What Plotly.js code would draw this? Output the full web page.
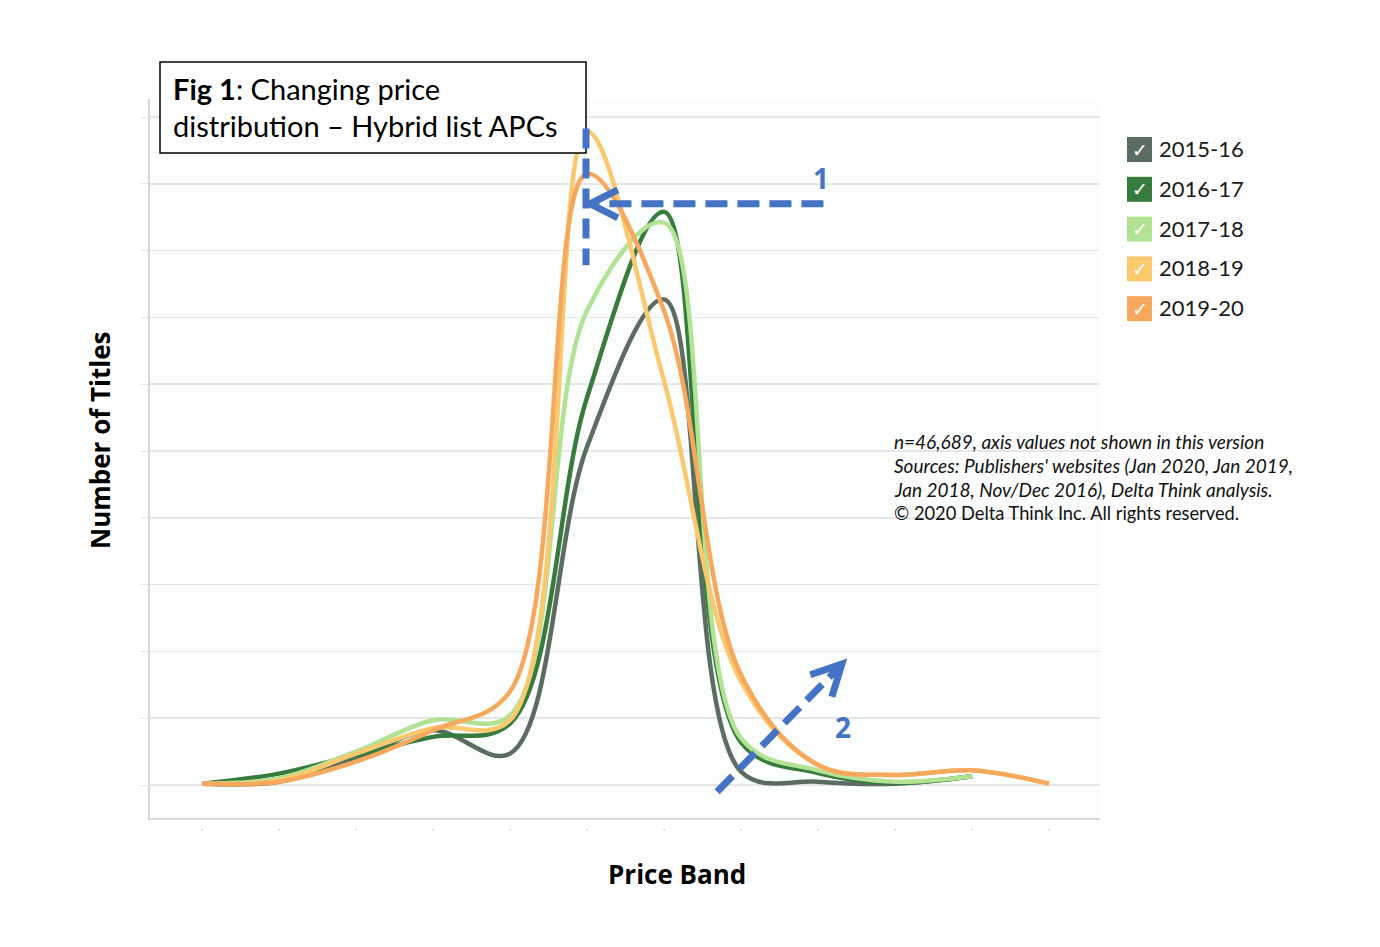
<!DOCTYPE html>
<html>
<head>
<meta charset="utf-8">
<script src="https://cdn.plot.ly/plotly-3.0.1.min.js"></script>
<style>
  body { margin: 0; background: #fff; }
  #myDiv { width: 1380px; height: 947px; }
</style>
</head>
<body>
<div id="myDiv"></div>
<script>
// price bands (values hidden in the source), one label per band
const bands = [0, 1, 2, 3, 4, 5, 6, 7, 8, 9, 10, 11];
const bandLabels = ['·', '·', '·', '·', '·', '·', '·', '·', '·', '·', '·', '·'];

const seasons = ['2015-16', '2016-17', '2017-18', '2018-19', '2019-20'];

// number of titles per band (in gridline units)
const titles1516 = [0.02, 0.05, 0.40, 0.82, 0.47, 5.06, 7.27, 0.20, 0.05, 0.02, 0.13];
const titles1617 = [0.02, 0.17, 0.45, 0.72, 0.92, 5.80, 8.58, 0.64, 0.18, 0.03, 0.13];
const titles1718 = [0.02, 0.10, 0.50, 0.97, 1.04, 7.10, 8.42, 0.70, 0.22, 0.05, 0.13];
const titles1819 = [0.02, 0.07, 0.47, 0.85, 0.97, 9.78, 6.05, 1.55, 0.30, 0.15, 0.22, 0.02];
const titles1920 = [0.02, 0.05, 0.35, 0.82, 1.40, 9.15, 7.10, 1.65, 0.30, 0.15, 0.22, 0.02];

const colors = ['#5b6d60', '#387c3d', '#b2e294', '#fac96d', '#f6a95c'];
const allSeries = [titles1516, titles1617, titles1718, titles1819, titles1920];

var data = allSeries.map(function (vals, k) {
  return {
    x: bands.slice(0, vals.length),
    y: vals,
    name: seasons[k],
    type: 'scatter',
    mode: 'lines',
    line: { color: colors[k], width: 4.5, shape: 'spline', smoothing: 1 },
    hoverinfo: 'skip',
    showlegend: false
  };
});

// pixel -> paper helpers for the decorations around the plot
const L = 150, R = 1100, T = 99, B = 818;
function px(x) { return (x - L) / (R - L); }
function py(y) { return (B - y) / (B - T); }

const blue = '#4472c4';

var shapes = [
  // title box
  { type: 'rect', xref: 'paper', yref: 'paper', x0: px(160), x1: px(586), y0: py(62), y1: py(153),
    line: { color: '#000', width: 1.5 }, fillcolor: '#fff', layer: 'above' },
  // arrow 1
  { type: 'line', xref: 'x', yref: 'y', x0: 4.987, x1: 4.987, y0: 9.83, y1: 7.78,
    line: { color: blue, width: 7, dash: '20px,10px' }, layer: 'above' },
  { type: 'line', xref: 'x', yref: 'y', x0: 8.07, x1: 5.06, y0: 8.70, y1: 8.70,
    line: { color: blue, width: 7, dash: '22px,10px' }, layer: 'above' },
  { type: 'path', xref: 'x', yref: 'y', path: 'M 5.40,8.91 L 5.04,8.70 L 5.40,8.49',
    line: { color: blue, width: 7 }, layer: 'above' },
  // arrow 2
  { type: 'line', xref: 'x', yref: 'y', x0: 6.69, y0: -0.10, x1: 8.28, y1: 1.77,
    line: { color: blue, width: 7, dash: '22px,10px' }, layer: 'above' },
  { type: 'path', xref: 'x', yref: 'y', path: 'M 7.90,1.65 L 8.31,1.81 L 8.18,1.32',
    line: { color: blue, width: 7 }, layer: 'above' }
];

var annotations = [
  { xref: 'paper', yref: 'paper', x: px(171), y: py(88), xanchor: 'left', yanchor: 'middle', showarrow: false,
    text: '<b>Fig 1</b>: Changing price', font: { family: 'Lato', size: 29, color: '#000' } },
  { xref: 'paper', yref: 'paper', x: px(171), y: py(125), xanchor: 'left', yanchor: 'middle', showarrow: false,
    text: 'distribution \u2013 Hybrid list APCs', font: { family: 'Lato', size: 29, color: '#000' } },
  { xref: 'x', yref: 'y', x: 8.04, y: 9.09, showarrow: false, text: '<b>1</b>',
    font: { family: 'Open Sans', size: 28, color: blue } },
  { xref: 'x', yref: 'y', x: 8.33, y: 0.87, showarrow: false, text: '<b>2</b>',
    font: { family: 'Open Sans', size: 28, color: blue } },
  // axis titles
  { xref: 'paper', yref: 'paper', x: px(677), y: py(874), xanchor: 'center', yanchor: 'middle', showarrow: false,
    text: '<b>Price Band</b>', font: { family: 'Open Sans', size: 26, color: '#000' } },
  { xref: 'paper', yref: 'paper', x: px(100), y: py(440), xanchor: 'center', yanchor: 'middle', showarrow: false,
    textangle: -90, text: '<b>Number of Titles</b>', font: { family: 'Open Sans', size: 26, color: '#000' } }
];

// note block
const noteLines = [
  '<i>n=46,689, axis values not shown in this version</i>',
  "<i>Sources: Publishers' websites (Jan 2020, Jan 2019,</i>",
  '<i>Jan 2018, Nov/Dec 2016), Delta Think analysis.</i>',
  '\u00a9 2020 Delta Think Inc. All rights reserved.'
];
const noteSizes = [19, 19, 19, 18.3];
noteLines.forEach(function (t, k) {
  annotations.push({ xref: 'paper', yref: 'paper', x: px(892), y: py(441 + 24 * k), xanchor: 'left', yanchor: 'middle',
    showarrow: false, text: t, font: { family: 'Lato', size: noteSizes[k], color: '#111' } });
});

// legend: checked colour boxes
seasons.forEach(function (s, k) {
  var cy = 149.5 + 39.8 * k;
  shapes.push({ type: 'rect', xref: 'paper', yref: 'paper', x0: px(1127), x1: px(1152), y0: py(cy - 12.5), y1: py(cy + 12.5),
    line: { width: 0 }, fillcolor: colors[k] });
  annotations.push({ xref: 'paper', yref: 'paper', x: px(1139.5), y: py(cy), xanchor: 'center', yanchor: 'middle',
    showarrow: false, text: '\u2713', font: { family: 'DejaVu Sans', size: 19, color: '#fff' } });
  annotations.push({ xref: 'paper', yref: 'paper', x: px(1157), y: py(cy - 1), xanchor: 'left', yanchor: 'middle',
    showarrow: false, text: s, font: { family: 'Lato', size: 22, color: '#1a1a1a' } });
});

var layout = {
  width: 1380,
  height: 947,
  margin: { l: L, r: 1380 - R, t: T, b: 947 - B },
  paper_bgcolor: '#ffffff',
  plot_bgcolor: '#fcfdfd',
  showlegend: false,
  xaxis: {
    range: [-0.675, 11.662],
    tickvals: bands,
    ticktext: bandLabels,
    tickfont: { family: 'Lato', size: 10, color: '#bbb' },
    ticks: '',
    showgrid: false,
    zeroline: false,
    showline: true,
    linecolor: '#d6d6d6',
    linewidth: 2
  },
  yaxis: {
    range: [-0.494, 10.27],
    dtick: 1,
    tick0: 0,
    showticklabels: false,
    ticks: 'outside',
    ticklen: 8,
    tickcolor: '#e6e6e6',
    showgrid: true,
    gridcolor: '#e6e6e6',
    gridwidth: 1.5,
    zeroline: false,
    showline: true,
    linecolor: '#d6d6d6',
    linewidth: 2
  },
  shapes: shapes,
  annotations: annotations
};

Plotly.newPlot('myDiv', data, layout, { displayModeBar: false, staticPlot: true });
</script>
</body>
</html>
